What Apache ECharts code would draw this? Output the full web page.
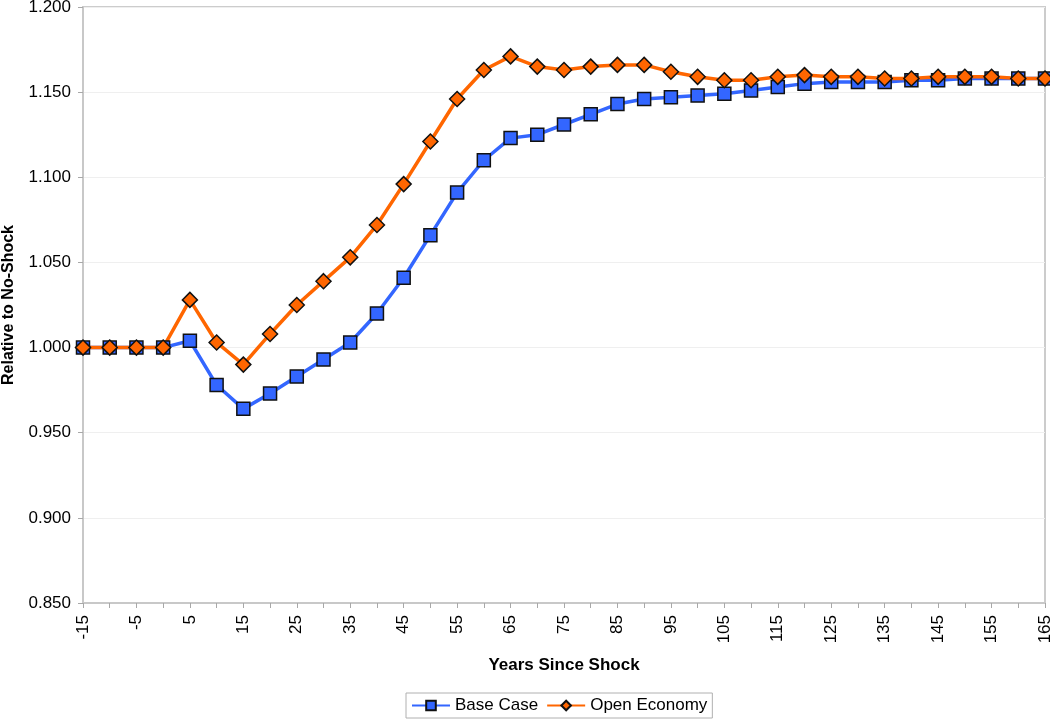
<!DOCTYPE html>
<html>
<head>
<meta charset="utf-8">
<script src="https://cdn.jsdelivr.net/npm/echarts@6/dist/echarts.min.js"></script>
<style>html,body{margin:0;padding:0;background:#fff;}#c{width:1050px;height:719px;}</style>
</head>
<body>
<div id="c"></div>
<script>
const years = [-15,-10,-5,0,5,10,15,20,25,30,35,40,45,50,55,60,65,70,75,80,85,90,95,100,105,110,115,120,125,130,135,140,145,150,155,160,165];
const baseCase = [1.000,1.000,1.000,1.000,1.004,0.978,0.964,0.973,0.983,0.993,1.003,1.020,1.041,1.066,1.091,1.110,1.123,1.125,1.131,1.137,1.143,1.146,1.147,1.148,1.149,1.151,1.153,1.155,1.156,1.156,1.156,1.157,1.157,1.158,1.158,1.158,1.158];
const openEconomy = [1.000,1.000,1.000,1.000,1.028,1.003,0.990,1.008,1.025,1.039,1.053,1.072,1.096,1.121,1.146,1.163,1.171,1.165,1.163,1.165,1.166,1.166,1.162,1.159,1.157,1.157,1.159,1.160,1.159,1.159,1.158,1.158,1.159,1.159,1.159,1.158,1.158];
const seriesNames = ['Base Case','Open Economy'];

const chart = echarts.init(document.getElementById('c'));
const font = 'Liberation Sans, Arial, sans-serif';
chart.setOption({
  animation: false,
  backgroundColor: '#fff',
  grid: {left: 83, right: 5, top: 7, bottom: 116, show: true, borderColor: '#cccccc', borderWidth: 2, containLabel: false, outerBoundsMode: 'none'},
  legend: {
    data: seriesNames, bottom: 1, left: 406,
    itemWidth: 38, itemHeight: 12, itemGap: 8,
    borderColor: '#b0b0b0', borderWidth: 1, padding: [4, 5, 4, 5],
    textStyle: {fontFamily: font, fontSize: 17, color: '#000'}
  },
  xAxis: {
    type: 'category', data: years.map(String), boundaryGap: false,
    name: 'Years Since Shock', nameLocation: 'middle', nameGap: 54,
    nameTextStyle: {fontFamily: font, fontSize: 17, fontWeight: 'bold', color: '#000'},
    axisLine: {lineStyle: {color: '#c8c8c8', width: 2}},
    axisTick: {interval: 0, length: 5, lineStyle: {color: '#a8a8a8'}},
    axisLabel: {interval: 1, rotate: 90, fontFamily: font, fontSize: 17, color: '#000', margin: 12},
    splitLine: {show: false}
  },
  yAxis: {
    type: 'value', min: 0.85, max: 1.2, interval: 0.05,
    name: 'Relative to No-Shock', nameLocation: 'middle', nameGap: 66,
    nameTextStyle: {fontFamily: font, fontSize: 16, fontWeight: 'bold', color: '#000'},
    axisLine: {show: true, lineStyle: {color: '#c8c8c8', width: 2}},
    axisTick: {show: true, length: 5, lineStyle: {color: '#a8a8a8'}},
    axisLabel: {fontFamily: font, fontSize: 17, color: '#000', margin: 12, formatter: v => v.toFixed(3)},
    splitLine: {lineStyle: {color: '#efefef', width: 1}}
  },
  series: [
    {
      name: seriesNames[0], type: 'line', data: baseCase,
      symbol: 'rect', symbolSize: 13,
      lineStyle: {color: '#3366ff', width: 3.5},
      itemStyle: {color: '#3366ff', borderColor: '#111', borderWidth: 1.5}
    },
    {
      name: seriesNames[1], type: 'line', data: openEconomy,
      symbol: 'diamond', symbolSize: 15,
      lineStyle: {color: '#ff6600', width: 3.5},
      itemStyle: {color: '#ff6600', borderColor: '#111', borderWidth: 1.5}
    }
  ]
});
</script>
</body>
</html>
